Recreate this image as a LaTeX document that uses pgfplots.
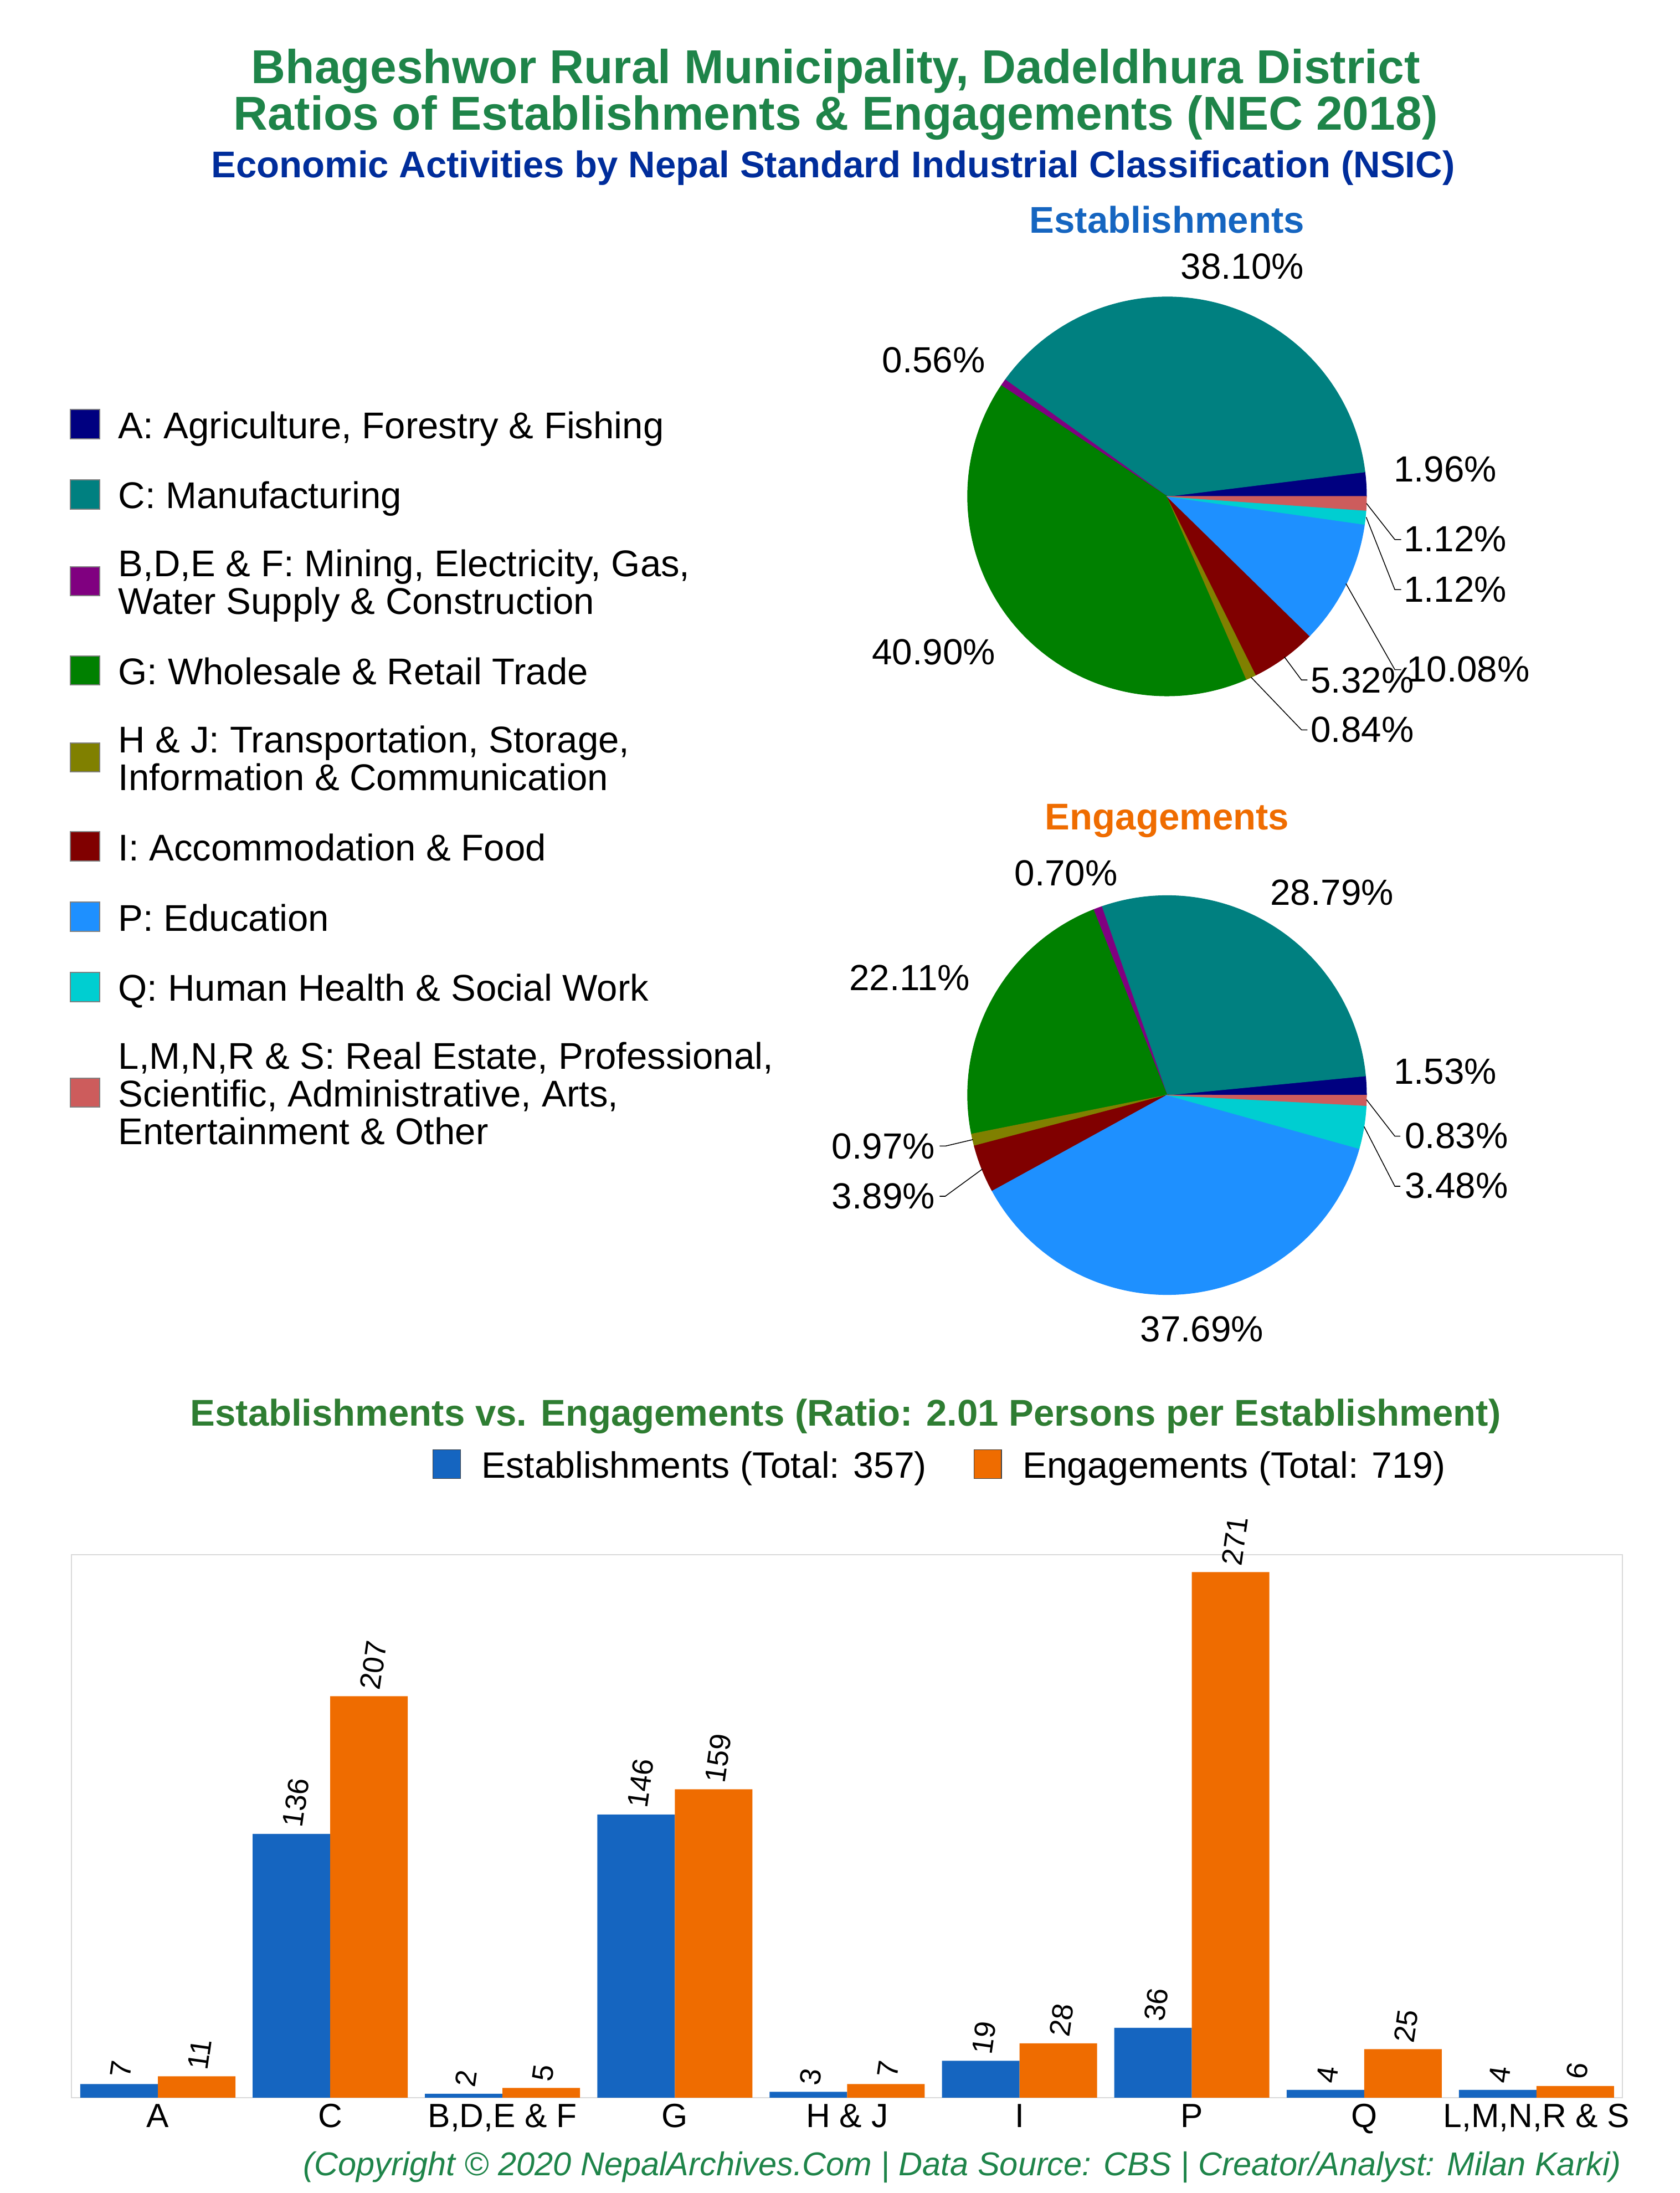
\documentclass[border=0pt]{standalone}
\usepackage{fontspec}
\setmainfont{Liberation Sans}
\usepackage{pgfplots}
\pgfplotsset{compat=1.18}

\definecolor{titlegreen}{RGB}{30,132,73}
\definecolor{bartitlegreen}{RGB}{46,125,50}
\definecolor{subblue}{RGB}{0,45,155}
\definecolor{estblue}{RGB}{21,101,192}
\definecolor{engorange}{RGB}{239,108,0}
\definecolor{barblue}{RGB}{21,101,192}
\definecolor{barorange}{RGB}{239,108,0}
\definecolor{bordergray}{RGB}{217,217,217}
\definecolor{cA}{RGB}{0,0,128}
\definecolor{cC}{RGB}{0,128,128}
\definecolor{cB}{RGB}{128,0,128}
\definecolor{cG}{RGB}{0,128,0}
\definecolor{cH}{RGB}{128,128,0}
\definecolor{cI}{RGB}{128,0,0}
\definecolor{cP}{RGB}{30,144,255}
\definecolor{cQ}{RGB}{0,206,209}
\definecolor{cL}{RGB}{205,92,92}

\newcommand{\LegTab}[1]{\begin{tabular}{@{}l@{}}#1\end{tabular}}
\tikzset{lbl/.style={font=\fontsize{13}{15}\selectfont, inner sep=0pt}}
\pgfplotsset{
  pieaxis/.style={anchor=center, scale only axis, width=142.7pt, height=142.7pt,
    xmin=-1, xmax=1, ymin=-1, ymax=1, hide axis, clip=false},
  leader/.style={forget plot, black, line width=0.3pt},
  slice/.style={fill=#1, draw=#1, line width=0.2pt},
  vallbl/.style={nodes near coords,
    every node near coord/.append style={xshift=#1, font=\fontsize{10.5}{12}\selectfont, text=black,
      rotate=82, anchor=west, inner xsep=2.3pt, inner ysep=0pt}},
  barleg/.style={legend image code/.code={\draw[##1, draw=black!75, line width=0.3pt] (0pt,-2.95pt) rectangle (9.85pt,7.31pt);}},
}

\begin{document}
\begin{tikzpicture}
\path[use as bounding box] (0,0) rectangle (601pt,784.3pt);

% Titles
\node[anchor=base, font=\fontsize{17}{19}\selectfont\bfseries, text=titlegreen, inner sep=0pt] at (299pt,754.4pt) {Bhageshwor Rural Municipality, Dadeldhura District};
\node[anchor=base, font=\fontsize{17}{19}\selectfont\bfseries, text=titlegreen, inner sep=0pt] at (299pt,737.75pt) {Ratios of Establishments \& Engagements (NEC 2018)};
\node[anchor=base, font=\fontsize{13.3}{15}\selectfont\bfseries, text=subblue, inner sep=0pt] at (298pt,720.7pt) {Economic Activities by Nepal Standard Industrial Classification (NSIC)};

\node[anchor=base, font=\fontsize{13.3}{15}\selectfont\bfseries, text=estblue, inner sep=0pt] at (417.5pt,701pt) {Establishments};
\node[anchor=base, font=\fontsize{13.3}{15}\selectfont\bfseries, text=engorange, inner sep=0pt] at (417.5pt,487.5pt) {Engagements};

% ---------------- Establishments pie ----------------
\begin{axis}[pieaxis, at={(417.5pt,606.75pt)},
  legend cell align=left,
  legend style={at={(-2.2505,0.719)}, anchor=north west, draw=none, fill=none,
    inner sep=0pt, outer sep=0pt, row sep=10.8pt,
    font=\fontsize{13.3}{12.9}\selectfont, nodes={inner sep=0pt, text depth=},
    /tikz/every odd column/.append style={column sep=6.55pt}},
  legend image code/.code={\draw[#1, draw=gray, line width=0.4pt] (0pt,-3.02pt) rectangle (10.4pt,7.38pt);},
]
\addplot[slice=cA] coordinates {(0,0) (1,0)} arc[start angle=0, end angle=7.056, radius=71.35pt] -- cycle;
\addlegendentry{\LegTab{A: Agriculture, Forestry \& Fishing}}
\addplot[slice=cC] coordinates {(0,0) (0.99243,0.12284)} arc[start angle=7.056, end angle=144.216, radius=71.35pt] -- cycle;
\addlegendentry{\LegTab{C: Manufacturing}}
\addplot[slice=cB] coordinates {(0,0) (-0.81124,0.58474)} arc[start angle=144.216, end angle=146.232, radius=71.35pt] -- cycle;
\addlegendentry{\LegTab{B,D,E \& F: Mining, Electricity, Gas,\\Water Supply \& Construction}}
\addplot[slice=cG] coordinates {(0,0) (-0.83130,0.55583)} arc[start angle=146.232, end angle=293.472, radius=71.35pt] -- cycle;
\addlegendentry{\LegTab{G: Wholesale \& Retail Trade}}
\addplot[slice=cH] coordinates {(0,0) (0.39830,-0.91726)} arc[start angle=293.472, end angle=296.496, radius=71.35pt] -- cycle;
\addlegendentry{\LegTab{H \& J: Transportation, Storage,\\Information \& Communication}}
\addplot[slice=cI] coordinates {(0,0) (0.44614,-0.89496)} arc[start angle=296.496, end angle=315.648, radius=71.35pt] -- cycle;
\addlegendentry{\LegTab{I: Accommodation \& Food}}
\addplot[slice=cP] coordinates {(0,0) (0.71506,-0.69907)} arc[start angle=315.648, end angle=351.936, radius=71.35pt] -- cycle;
\addlegendentry{\LegTab{P: Education}}
\addplot[slice=cQ] coordinates {(0,0) (0.99011,-0.14028)} arc[start angle=351.936, end angle=355.968, radius=71.35pt] -- cycle;
\addlegendentry{\LegTab{Q: Human Health \& Social Work}}
\addplot[slice=cL] coordinates {(0,0) (0.99752,-0.07031)} arc[start angle=355.968, end angle=360, radius=71.35pt] -- cycle;
\addlegendentry{\LegTab{L,M,N,R \& S: Real Estate, Professional,\\Scientific, Administrative, Arts,\\Entertainment \& Other}}

\addplot[leader] coordinates {(1.000,-0.035) (1.142,-0.216) (1.174,-0.216)};
\addplot[leader] coordinates {(0.9986,-0.104) (1.142,-0.467) (1.174,-0.467)};
\addplot[leader] coordinates {(0.897,-0.437) (1.142,-0.868) (1.174,-0.868)};
\addplot[leader] coordinates {(0.588,-0.804) (0.674,-0.920) (0.704,-0.920)};
\addplot[leader] coordinates {(0.421,-0.906) (0.674,-1.170) (0.704,-1.170)};

\node[lbl] at (axis cs:0.378,1.153) {38.10\%};
\node[lbl] at (axis cs:-1.170,0.683) {0.56\%};
\node[lbl] at (axis cs:-1.170,-0.781) {40.90\%};
\node[lbl, anchor=west] at (axis cs:1.134,0.136) {1.96\%};
\node[lbl, anchor=west] at (axis cs:1.184,-0.214) {1.12\%};
\node[lbl, anchor=west] at (axis cs:1.184,-0.465) {1.12\%};
\node[lbl, anchor=west] at (axis cs:1.198,-0.866) {10.08\%};
\node[lbl, anchor=west] at (axis cs:0.718,-0.921) {5.32\%};
\node[lbl, anchor=west] at (axis cs:0.718,-1.169) {0.84\%};
\end{axis}

% ---------------- Engagements pie ----------------
\begin{axis}[pieaxis, at={(417.5pt,392.65pt)}]
\addplot[slice=cA] coordinates {(0,0) (1,0)} arc[start angle=0, end angle=5.508, radius=71.35pt] -- cycle;
\addplot[slice=cC] coordinates {(0,0) (0.99538,0.09599)} arc[start angle=5.508, end angle=109.152, radius=71.35pt] -- cycle;
\addplot[slice=cB] coordinates {(0,0) (-0.32807,0.94466)} arc[start angle=109.152, end angle=111.672, radius=71.35pt] -- cycle;
\addplot[slice=cG] coordinates {(0,0) (-0.36930,0.92931)} arc[start angle=111.672, end angle=191.268, radius=71.35pt] -- cycle;
\addplot[slice=cH] coordinates {(0,0) (-0.98072,-0.19540)} arc[start angle=191.268, end angle=194.76, radius=71.35pt] -- cycle;
\addplot[slice=cI] coordinates {(0,0) (-0.96700,-0.25477)} arc[start angle=194.76, end angle=208.764, radius=71.35pt] -- cycle;
\addplot[slice=cP] coordinates {(0,0) (-0.87662,-0.48121)} arc[start angle=208.764, end angle=344.448, radius=71.35pt] -- cycle;
\addplot[slice=cQ] coordinates {(0,0) (0.96339,-0.26811)} arc[start angle=344.448, end angle=356.976, radius=71.35pt] -- cycle;
\addplot[slice=cL] coordinates {(0,0) (0.99861,-0.05275)} arc[start angle=356.976, end angle=359.964, radius=71.35pt] -- cycle;

\addplot[leader] coordinates {(1.000,-0.023) (1.142,-0.206) (1.170,-0.206)};
\addplot[leader] coordinates {(0.988,-0.158) (1.142,-0.457) (1.170,-0.457)};
\addplot[leader] coordinates {(-0.973,-0.223) (-1.109,-0.255) (-1.140,-0.255)};
\addplot[leader] coordinates {(-0.926,-0.371) (-1.112,-0.507) (-1.140,-0.507)};

\node[lbl] at (axis cs:-0.506,1.113) {0.70\%};
\node[lbl] at (axis cs:0.827,1.015) {28.79\%};
\node[lbl] at (axis cs:-1.291,0.587) {22.11\%};
\node[lbl] at (axis cs:0.175,-1.173) {37.69\%};
\node[lbl, anchor=west] at (axis cs:1.134,0.119) {1.53\%};
\node[lbl, anchor=west] at (axis cs:1.190,-0.205) {0.83\%};
\node[lbl, anchor=west] at (axis cs:1.190,-0.454) {3.48\%};
\node[lbl, anchor=east] at (axis cs:-1.161,-0.258) {0.97\%};
\node[lbl, anchor=east] at (axis cs:-1.161,-0.507) {3.89\%};
\end{axis}

% ---------------- Bar chart ----------------
\node[anchor=base, font=\fontsize{13.3}{15}\selectfont\bfseries, text=bartitlegreen, inner sep=0pt] at (302.5pt,274.35pt) {Establishments vs. Engagements (Ratio: 2.01 Persons per Establishment)};

\begin{axis}[at={(25.65pt,34.1pt)}, anchor=south west, scale only axis,
  width=554.85pt, height=194.2pt,
  xmin=-0.5, xmax=8.5, ymin=0, ymax=280, enlargelimits=false, clip=false,
  ytick=\empty, xtick={0,1,2,3,4,5,6,7,8},
  xticklabels={A,C,{B,D,E \& F},G,{H \& J},I,P,Q,{L,M,N,R \& S}},
  xtick style={draw=none},
  axis line style={draw=bordergray, line width=0.4pt},
  xticklabel style={font=\fontsize{12}{14}\selectfont, inner sep=0pt, yshift=-2.1pt},
  /pgf/number format/assume math mode=true,
  legend columns=2, legend cell align=left,
  legend style={at={(0.23268,1.19392)}, anchor=north west, draw=none, fill=none,
    inner sep=0pt, outer sep=0pt, font=\fontsize{13.1}{12.9}\selectfont,
    nodes={inner sep=0pt, text depth=},
    /tikz/every odd column/.append style={column sep=7.4pt},
    /tikz/every even column/.append style={column sep=16.75pt}},
]
\addplot[ybar, bar width=0.45, bar shift=-0.225, fill=barblue, draw=none, vallbl=-13.87pt, barleg]
  coordinates {(0,7) (1,136) (2,2) (3,146) (4,3) (5,19) (6,36) (7,4) (8,4)};
\addlegendentry{\LegTab{Establishments (Total: 357)}}
\addplot[ybar, bar width=0.45, bar shift=0.225, fill=barorange, draw=none, vallbl=13.87pt, barleg]
  coordinates {(0,11) (1,207) (2,5) (3,159) (4,7) (5,28) (6,271) (7,25) (8,6)};
\addlegendentry{\LegTab{Engagements (Total: 719)}}
\end{axis}

\node[anchor=base east, font=\fontsize{11.8}{14}\selectfont\itshape, text=titlegreen, inner sep=0pt] at (580.2pt,6.15pt) {(Copyright © 2020 NepalArchives.Com | Data Source: CBS | Creator/Analyst: Milan Karki)};
\end{tikzpicture}
\end{document}
